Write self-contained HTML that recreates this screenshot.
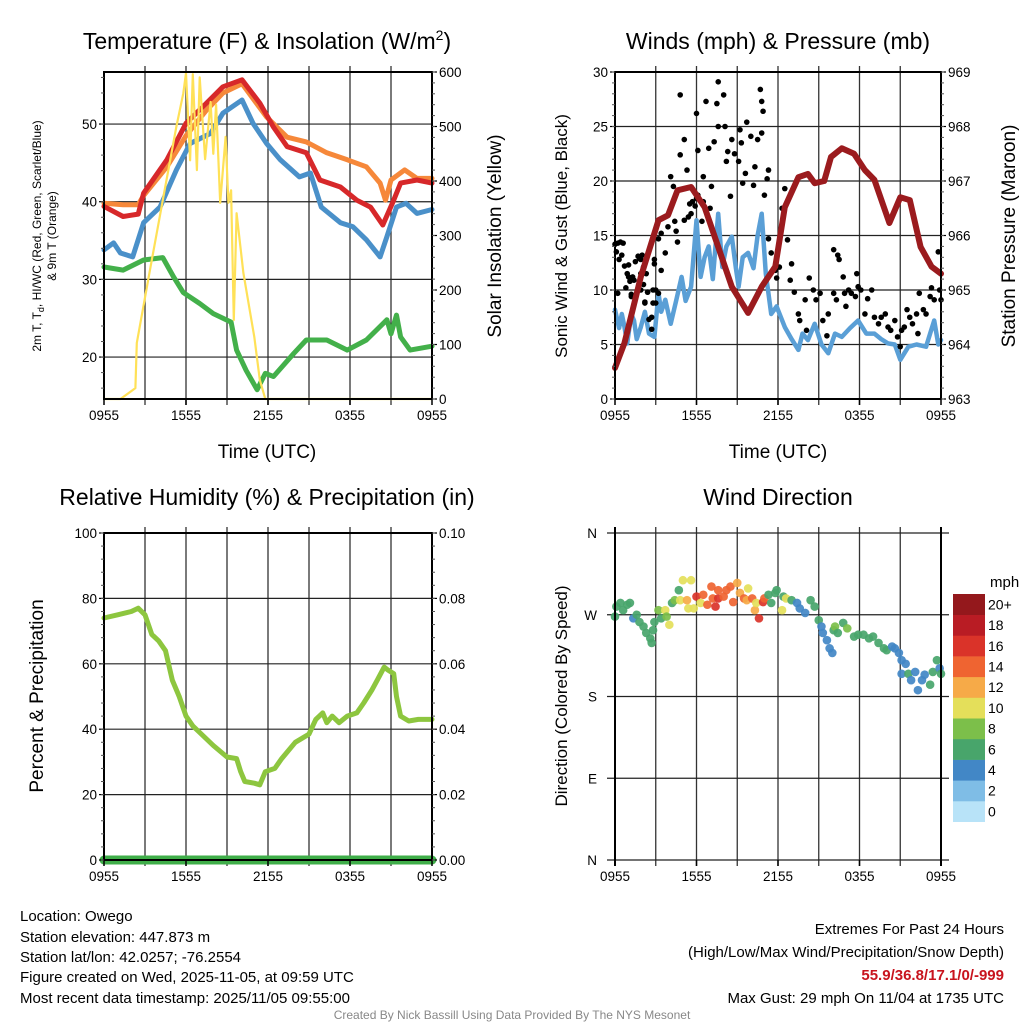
<!DOCTYPE html>
<html><head><meta charset="utf-8"><title>Owego Meteogram</title>
<style>
html,body{margin:0;padding:0;background:#fff;}
svg{display:block;font-family:"Liberation Sans",sans-serif;}
</style></head>
<body>
<svg id="chart" width="1024" height="1024" viewBox="0 0 1024 1024" xmlns="http://www.w3.org/2000/svg">
<rect x="0" y="0" width="1024" height="1024" fill="#fff"/>
<text x="267" y="49" font-size="23" text-anchor="middle">Temperature (F) &amp; Insolation (W/m<tspan font-size="14" dy="-9">2</tspan><tspan dy="9">)</tspan></text>
<text x="778" y="49" font-size="23" text-anchor="middle">Winds (mph) &amp; Pressure (mb)</text>
<text x="267" y="505" font-size="23" text-anchor="middle">Relative Humidity (%) &amp; Precipitation (in)</text>
<text x="778" y="505" font-size="23" text-anchor="middle">Wind Direction</text>
<text x="267" y="458" font-size="19" text-anchor="middle">Time (UTC)</text>
<text x="778" y="458" font-size="19" text-anchor="middle">Time (UTC)</text>
<text transform="translate(41,236) rotate(-90)" font-size="12" text-anchor="middle">2m T, T<tspan font-size="9" dy="3">d</tspan><tspan dy="-3">, HI/WC (Red, Green, Scarlet/Blue)</tspan></text>
<text transform="translate(56,236) rotate(-90)" font-size="12" text-anchor="middle">&amp; 9m T (Orange)</text>
<text transform="translate(501,236) rotate(-90)" font-size="19" text-anchor="middle">Solar Insolation (Yellow)</text>
<text transform="translate(567,236) rotate(-90)" font-size="17" text-anchor="middle">Sonic Wind &amp; Gust (Blue, Black)</text>
<text transform="translate(1015,236) rotate(-90)" font-size="19" text-anchor="middle">Station Pressure (Maroon)</text>
<text transform="translate(43,696) rotate(-90)" font-size="19" text-anchor="middle">Percent &amp; Precipitation</text>
<text transform="translate(567,696) rotate(-90)" font-size="17" text-anchor="middle">Direction (Colored By Speed)</text>
<text x="990" y="587" font-size="15">mph</text>
<g font-size="15">
<text x="20" y="921">Location: Owego</text>
<text x="20" y="942">Station elevation: 447.873 m</text>
<text x="20" y="962">Station lat/lon: 42.0257; -76.2554</text>
<text x="20" y="982">Figure created on Wed, 2025-11-05, at 09:59 UTC</text>
<text x="20" y="1003">Most recent data timestamp: 2025/11/05 09:55:00</text>
</g>
<g font-size="15" text-anchor="end">
<text x="1004" y="934">Extremes For Past 24 Hours</text>
<text x="1004" y="957">(High/Low/Max Wind/Precipitation/Snow Depth)</text>
<text x="1004" y="980" font-weight="bold" fill="#c8141e">55.9/36.8/17.1/0/-999</text>
<text x="1004" y="1003">Max Gust: 29 mph On 11/04 at 1735 UTC</text>
</g>
<text x="512" y="1019" font-size="12" fill="#888" text-anchor="middle">Created By Nick Bassill Using Data Provided By The NYS Mesonet</text>
</svg>
<script>
// ---- data ----
const xTickLabels = ["0955","1555","2155","0355","0955"];
const xTickHours = [0,6,12,18,24];
const tempTicks = [20,30,40,50];
const solarTicks = [0,100,200,300,400,500,600];
const windTicks = [0,5,10,15,20,25,30];
const presTicks = [963,964,965,966,967,968,969];
const rhTicks = [0,20,40,60,80,100];
const precipTicks = ["0.00","0.02","0.04","0.06","0.08","0.10"];
const dirTickLabels = ["N","E","S","W","N"];
const dirTickValues = [0,90,180,270,360];
const speedBins = ["0","2","4","6","8","10","12","14","16","18","20+"];

const redT = [0,1.4,2.5,2.9,4.6,6.0,7.5,8.7,10.1,11.4,12.4,13.4,14.8,15.8,17.3,18.5,19.5,20.4,21.2,21.7,22.9,24];
const redV = [39.4,38.1,38.4,41.1,45.4,50.1,52.7,54.8,55.7,52.7,49.6,47.1,46.3,42.8,41.9,40.2,39.3,37.0,40.2,42.4,42.8,42.4];
const orangeT = [0,1.4,2.5,2.9,4.6,6.0,7.5,8.7,10.1,11.9,13.4,14.8,16.3,17.8,19.2,20.2,20.6,21.0,22.0,22.9,24];
const orangeV = [39.8,39.6,39.6,40.8,44.5,48.5,51.8,54.0,55.2,50.9,48.3,47.7,46.3,45.4,44.5,42.4,40.2,42.8,44.1,43.0,43.0];
const blueT = [0,0.7,1.2,2.1,2.9,4.1,5.3,6.3,7.8,8.7,10.1,10.9,11.9,12.9,14.3,15.1,15.9,17.3,18.2,19.2,20.2,20.7,21.4,22.1,22.9,24];
const blueV = [33.8,34.7,33.4,32.9,37.3,39.3,44.1,47.5,48.8,51.4,53.1,50.1,47.5,45.4,43.2,43.7,39.3,37.3,36.8,35.1,32.9,35.5,39.3,39.8,38.5,39.0];
const greenT = [0,1.4,2.9,4.3,5.1,5.8,7.0,8.0,9.3,9.7,10.4,11.2,11.8,12.4,13.9,14.8,16.3,17.8,19.2,20.7,21.0,21.4,21.7,22.4,24];
const greenV = [31.6,31.2,32.5,32.8,30.3,28.3,26.9,25.6,24.5,20.9,18.3,15.8,17.9,17.5,20.5,22.2,22.2,20.9,22.2,24.8,23.0,25.4,22.6,20.9,21.4];
const solarT = [0,1.2,2.3,2.4,3.4,4.3,5.3,5.8,6.0,6.3,6.5,6.8,7.0,7.4,7.8,8.0,8.2,8.5,8.9,9.1,9.3,9.5,9.7,10.2,11.0,11.4,11.8,24];
const solarV = [0,0,20,103,242,365,500,561,598,438,596,420,590,440,545,450,540,360,481,360,383,145,341,231,114,35,0,0];

const presT = [0,0.7,1.9,3.2,3.9,4.6,5.6,6.6,7.6,8.6,9.8,10.8,11.8,12.5,13.5,14.2,14.7,15.4,15.9,16.7,17.6,18.4,19.1,20.2,21.0,21.7,22.5,23.3,24];
const presV = [963.57,964.03,965.24,966.28,966.37,966.83,966.89,966.52,965.79,965.06,964.58,965.06,965.43,966.52,967.07,967.13,966.96,967.0,967.44,967.6,967.5,967.2,967.02,966.23,966.7,966.65,965.79,965.43,965.3];
const windT = [0,0.3,0.5,0.7,0.9,1.2,1.4,1.6,1.9,2.2,2.5,2.9,3.2,3.4,3.7,4.1,4.5,4.9,5.2,5.6,6.0,6.3,6.6,6.9,7.2,7.6,7.9,8.2,8.6,8.9,9.1,9.4,9.8,10.2,10.5,10.8,11.1,11.5,11.9,12.5,13.0,13.5,13.8,14.2,14.7,15.2,15.7,16.2,16.7,17.3,17.9,18.5,19.1,19.6,20.1,20.6,21.0,21.6,22.2,22.9,23.2,23.5,23.8,24];
const windV = [8.2,6.5,7.8,6.6,5.1,7.8,7.2,5.5,6.6,8.0,6.0,5.7,9.7,8.0,9.1,6.9,9.0,11.2,9.0,10.3,16.4,11.2,13.0,14.0,11.0,17.0,12.1,14.0,14.9,12.0,10.3,13.0,13.4,12.0,15.0,17.0,11.5,7.8,8.5,6.6,5.5,4.5,6.0,5.4,6.9,5.0,4.2,6.0,5.7,6.5,7.2,6.0,6.0,5.5,5.1,5.0,3.6,4.8,5.0,4.8,6.0,7.2,5.0,5.4];
const gustT = [0.0,0.1,0.2,0.3,0.4,0.5,0.6,0.7,0.8,0.9,1.0,1.1,1.2,1.3,1.5,1.7,1.8,1.9,2.0,2.1,2.2,2.4,2.5,2.7,2.8,2.9,3.0,0.2,1.0,1.2,1.4,1.9,2.2,2.4,2.7,2.8,3.0,3.2,1.9,1.7,2.1,2.3,2.9,3.4,
 3.2,3.4,3.7,3.9,4.1,4.3,4.4,4.5,4.6,5.1,5.4,5.5,5.6,5.7,5.9,6.0,6.1,6.4,6.5,7.0,
 4.8,4.8,5.1,5.3,6.0,6.1,6.5,6.7,6.9,7.1,7.3,7.5,7.6,7.6,8.0,8.1,8.2,8.3,8.5,8.6,8.8,9.1,9.2,9.3,9.4,9.6,9.7,10.0,10.2,10.3,10.5,10.7,10.8,10.8,10.9,11.0,11.2,11.3,
 11.3,11.5,11.8,11.9,12.1,12.3,12.5,12.7,12.9,13.0,13.2,13.5,13.6,14.0,14.1,14.3,14.6,14.8,15.1,15.3,15.6,15.7,16.1,16.1,16.4,16.3,16.5,16.8,16.9,17.0,17.2,17.4,17.7,17.8,17.9,18.1,18.4,18.6,18.9,19.1,19.4,19.6,19.9,20.1,20.3,20.6,20.8,21.0,21.1,21.3,21.5,21.7,21.9,22.2,22.3,22.4,22.7,22.9,23.2,23.3,23.5,23.8,23.9,24.0];
const gustV = [14.2,13.5,14.3,12.8,14.4,13.2,14.3,12.2,10.2,11.5,12.3,10.8,9.6,11.2,12.6,10.0,12.9,11.5,13.2,10.5,8.9,9.8,7.3,6.4,10.0,12.4,8.8,9.7,11.2,9.4,10.9,10.0,8.8,9.8,7.5,8.8,10.0,9.7,12.8,13.1,12.1,11.5,12.8,11.8,
 14.7,15.2,13.4,15.8,20.4,19.5,16.3,15.4,14.4,16.4,16.7,17.9,17.0,18.1,17.7,18.4,18.7,16.3,18.1,17.5,
 27.9,22.4,23.8,21.0,26.2,22.8,20.4,27.3,23.0,19.5,23.6,27.1,29.1,25.0,27.9,25.0,21.8,22.7,18.6,23.8,22.5,21.8,24.7,23.5,19.8,20.7,25.4,24.1,19.6,21.3,23.8,28.4,27.3,24.4,26.4,18.7,20.2,21.0,
 14.7,13.4,11.8,11.1,12.1,17.5,19.3,14.6,10.9,12.4,9.8,7.8,7.2,9.1,6.3,11.1,10.0,9.1,9.7,7.2,5.8,7.8,9.7,13.7,13.2,9.1,12.8,11.2,9.7,8.5,10.0,9.7,9.4,11.5,10.3,10.0,7.8,9.2,10.0,7.5,6.9,7.5,7.8,6.6,6.3,7.2,5.7,4.8,6.3,6.6,8.2,7.5,6.9,7.8,6.0,9.7,8.2,7.8,9.4,10.2,9.1,13.5,10.0,9.1];

const rhT = [0,1,2,2.5,3,3.5,4,4.5,5,5.5,6,6.5,7,8,9,9.7,10,10.3,11,11.4,11.8,12.5,13,14,15,15.5,16,16.3,16.7,17.2,17.8,18.5,19,19.6,20,20.5,20.8,21.2,21.4,21.7,22.3,23,24];
const rhV = [74,75,76,77,75,69,67,64,55,50,44,41,39,35,31.5,31,27,24,23.5,23,27,28,31,36,38.5,43,45,42,44,42,44,45,48,52,55,59,58,57,50,44,42.5,43,43];
const precipT = [0,24];
const precipV = [0,0];

const dirT = [0,0.1,0.4,0.6,0.9,1.1,1.35,1.6,1.8,2.1,2.3,2.6,2.7,2.8,2.9,3.2,3.4,3.7,3.8,4.0,4.2,4.4,4.7,4.8,5.0,5.3,5.4,5.6,5.8,6.0,6.3,6.5,6.8,7.1,7.2,7.4,7.6,7.6,8.0,8.2,8.5,8.7,9.0,9.2,9.5,9.7,9.8,10.1,10.3,10.4,10.6,10.9,11.0,11.3,11.5,11.8,11.9,12.3,12.4,12.6,13.0,13.4,13.6,14.0,14.4,14.7,15.0,15.2,15.3,15.6,15.8,16.0,16.1,16.2,16.4,16.8,17.1,17.6,17.9,18.3,18.7,19.0,19.4,19.8,20.0,20.4,20.6,20.9,21.1,21.4,21.1,21.6,21.8,22.1,22.3,22.6,22.8,23.2,23.4,23.7,23.9,24];
const dirV = [268,279,283,275,281,283,266,270,262,257,250,244,239,253,262,275,266,275,268,259,283,286,297,286,308,286,277,308,277,290,283,292,281,301,288,279,288,297,290,297,301,284,305,294,288,286,299,288,275,283,266,284,288,292,283,294,297,275,290,288,286,283,277,272,286,279,264,257,250,242,233,228,253,257,250,261,255,246,248,248,244,246,239,233,231,235,233,228,220,216,205,205,198,207,187,198,204,193,207,220,211,205];
const dirS = [7,7,7,7,7,7,5,7,7,7,7,7,7,7,7,9,7,11,9,11,7,9,7,11,11,13,11,11,11,17,11,15,15,15,15,17,17,15,15,15,15,15,13,13,15,13,11,15,13,11,17,17,15,7,7,7,7,11,7,11,7,5,5,5,7,7,7,5,5,5,5,5,7,9,7,7,9,7,7,7,7,7,7,7,7,5,5,5,5,5,5,7,5,5,5,5,5,7,7,7,5,7];

// ---- setup ----
const NS = "http://www.w3.org/2000/svg";
const svg = document.getElementById("chart");
function mk(tag, attrs, parent){
  const e = document.createElementNS(NS, tag);
  for (const k in attrs) e.setAttribute(k, attrs[k]);
  (parent || svg).appendChild(e);
  return e;
}
function lin(d0, d1, r0, r1){ return v => r0 + (v - d0) * (r1 - r0) / (d1 - d0); }
function pathD(ts, vs, xf, yf){
  let d = "";
  for (let i = 0; i < ts.length; i++) d += (i ? "L" : "M") + xf(ts[i]).toFixed(1) + "," + yf(vs[i]).toFixed(1);
  return d;
}
const speedColors = ["#b8e3f8","#7fbde6","#4287c6","#48a56b","#7cbf4a","#e4df5a","#f6aa48","#ef6431","#da3329","#b91c24","#94181c"];
function speedColor(s){ return speedColors[Math.min(10, Math.max(0, Math.floor(s / 2)))]; }

// panel geometry
const P1 = {x0:104, x1:432, y0:72, y1:399};
const P2 = {x0:615, x1:941, y0:72, y1:399};
const P3 = {x0:104, x1:432, y0:533, y1:860};
const P4 = {x0:615, x1:941, y0:533, y1:860};

function grid(P, hLines, hScale, name, vExt, hExt){
  const g = mk("g", {});
  
  
  for (let h = 3; h < 24; h += 3){
    const x = lin(0,24,P.x0,P.x1)(h);
    const l = mk("line", {x1:x, x2:x, y1:P.y0 - vExt, y2:P.y1 + 6, stroke:"#333", "stroke-width":1.3}, g);
    
    
  }
  hLines.forEach(v => {
    const y = hScale(v);
    const l = mk("line", {x1:P.x0 - hExt, x2:P.x1 + hExt, y1:y, y2:y, stroke:"#222", "stroke-width":1.2}, g);
    
    
  });
}
function frame(P, name){
  const r = mk("rect", {x:P.x0, y:P.y0, width:P.x1-P.x0, height:P.y1-P.y0, fill:"none", stroke:"#000", "stroke-width":2});
  
  
}
function xAxis(P, name){
  const xf = lin(0,24,P.x0,P.x1);
  xTickHours.forEach((h,i) => {
    const t = mk("text", {x:xf(h), y:P.y1 + 21, "font-size":13.5, "text-anchor":"middle"});
    t.textContent = xTickLabels[i];
    
    
    const tk = mk("line", {x1:xf(h), x2:xf(h), y1:P.y1, y2:P.y1 + 6, stroke:"#000", "stroke-width":1.5});
    
    
  });
}
function yLabels(P, vals, labels, scale, side, name, minorStep, minorScale, minorRange){
  vals.forEach((v,i) => {
    const y = scale(v);
    const t = mk("text", {x: side === "left" ? P.x0 - 7 : P.x1 + 7, y:y + 5, "font-size":13.5, "text-anchor": side === "left" ? "end" : "start"});
    t.textContent = labels ? labels[i] : String(v);
    
    
    const xe = side === "left" ? P.x0 : P.x1;
    const tk = mk("line", {x1:xe, x2: side === "left" ? xe - 5 : xe + 5, y1:y, y2:y, stroke:"#000", "stroke-width":1.2});
    
    
  });
  if (minorStep){
    for (let v = minorRange[0]; v <= minorRange[1] + 1e-9; v += minorStep){
      const y = minorScale(v);
      if (y < P.y0 - 0.5 || y > P.y1 + 0.5) continue;
      const xe = side === "left" ? P.x0 : P.x1;
      const tk = mk("line", {x1:xe, x2: side === "left" ? xe - 3 : xe + 3, y1:y, y2:y, stroke:"#555", "stroke-width":1});
      
      
    }
  }
}

// ===== Panel 1: temperature & insolation =====
const x1f = lin(0,24,P1.x0,P1.x1);
const tY = lin(14.6,56.7,P1.y1,P1.y0);
const sY = lin(0,600,P1.y1,P1.y0);
grid(P1, tempTicks, tY, "temperature", 6, 0);
function series(ts, vs, xf, yf, color, w, name){
  const p = mk("path", {d:pathD(ts, vs, xf, yf), fill:"none", stroke:color, "stroke-width":w, "stroke-linejoin":"round", "stroke-linecap":"round"});
  
  
  return p;
}
series(greenT, greenV, x1f, tY, "#43b04a", 5, "dewpoint-line");
series(orangeT, orangeV, x1f, tY, "#f6883a", 5, "temp-9m-line");
series(redT, redV, x1f, tY, "#d7282a", 5, "temp-2m-line");
series(blueT, blueV, x1f, tY, "#4a90c9", 5, "heat-index-windchill-line");
series(solarT, solarV, x1f, sY, "#ffe157", 2.2, "solar-insolation-line");
frame(P1, "temperature");
xAxis(P1, "temperature");
yLabels(P1, tempTicks, null, tY, "left", "temperature-y", 2, tY, [16,56]);
yLabels(P1, solarTicks, null, sY, "right", "solar-y", 20, sY, [0,600]);

// ===== Panel 2: winds & pressure =====
const x2f = lin(0,24,P2.x0,P2.x1);
const wY = lin(0,30,P2.y1,P2.y0);
const pY = lin(963,969,P2.y1,P2.y0);
grid(P2, [5,10,15,20,25], wY, "wind", 6, 0);
series(windT, windV, x2f, wY, "#5a9fd6", 4.5, "sonic-wind-line");
gustT.forEach((t,i) => {
  const c = mk("circle", {cx:x2f(t), cy:wY(gustV[i]), r:2.8, fill:"#000"});
  
  
});
series(presT, presV, x2f, pY, "#9b1b1e", 6, "pressure-line");
frame(P2, "wind");
xAxis(P2, "wind");
yLabels(P2, windTicks, null, wY, "left", "wind-y", 1, wY, [0,30]);
yLabels(P2, presTicks, null, pY, "right", "pressure-y", 0.2, pY, [963,969]);

// ===== Panel 3: RH & precip =====
const x3f = lin(0,24,P3.x0,P3.x1);
const rY = lin(0,100,P3.y1,P3.y0);
const prY = lin(0,0.1,P3.y1,P3.y0);
grid(P3, [20,40,60,80], rY, "humidity", 6, 0);
series(rhT, rhV, x3f, rY, "#8dc63f", 5, "relative-humidity-line");
series(precipT, precipV, x3f, prY, "#3fae49", 9, "precipitation-line");
frame(P3, "humidity");
xAxis(P3, "humidity");
yLabels(P3, rhTicks, null, rY, "left", "humidity-y", 4, rY, [0,100]);
yLabels(P3, [0,0.02,0.04,0.06,0.08,0.1], precipTicks, prY, "right", "precip-y", 0.004, prY, [0,0.1]);

// ===== Panel 4: wind direction =====
const x4f = lin(0,24,P4.x0,P4.x1);
const dY = lin(0,360,P4.y1,P4.y0);
grid(P4, [0,90,180,270,360], dY, "direction", 6, 8);
dirT.forEach((t,i) => {
  const c = mk("circle", {cx:x4f(t), cy:dY(dirV[i]), r:4.3, fill:speedColor(dirS[i]), "fill-opacity":0.92});
  
  
});
const lb = mk("line", {x1:P4.x0, x2:P4.x0, y1:P4.y0 - 6, y2:P4.y1 + 6, stroke:"#000", "stroke-width":2});


const rb = mk("line", {x1:P4.x1, x2:P4.x1, y1:P4.y0 - 6, y2:P4.y1 + 6, stroke:"#000", "stroke-width":2});


xAxis(P4, "direction");
dirTickValues.forEach((v,i) => {
  const t = mk("text", {x:P4.x0 - 18, y:dY(v) + 5, "font-size":13.5, "text-anchor":"end"});
  t.textContent = dirTickLabels[i];
  
  
});

// colorbar
const cbTop = 594, cbH = 20.7;
for (let i = 0; i < speedBins.length; i++){
  const y = cbTop + (speedBins.length - 1 - i) * cbH;
  const r = mk("rect", {x:953, y:y, width:32, height:cbH + 0.3, fill:speedColors[i]});
  
  
  const t = mk("text", {x:988, y:y + cbH/2 + 5, "font-size":14});
  t.textContent = speedBins[i];
  
  
}
</script>
</body></html>
